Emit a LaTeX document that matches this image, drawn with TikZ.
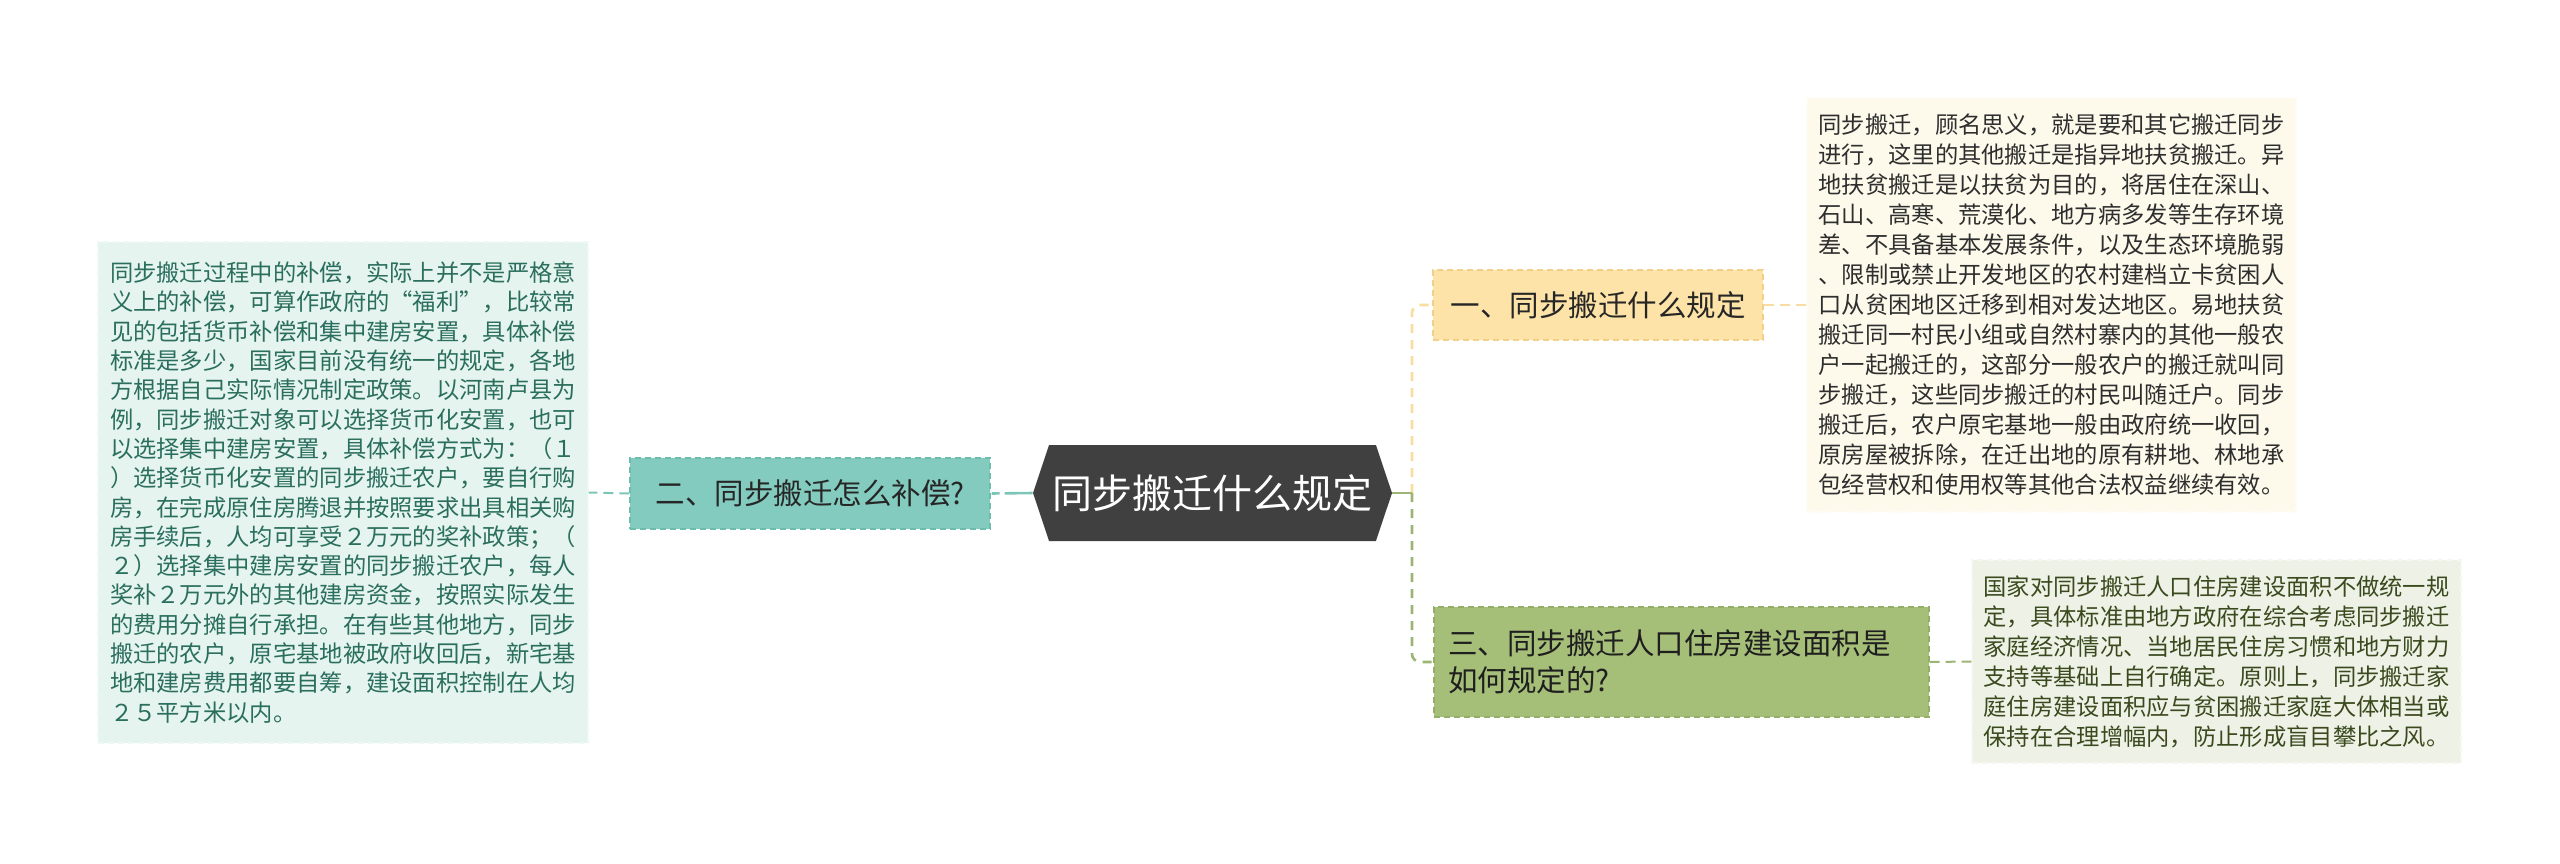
\documentclass[tikz,border=0pt]{standalone}
\usepackage{fontspec}
\setmainfont{Noto Sans CJK SC}
\usetikzlibrary{shapes.symbols}
\definecolor{rootfill}{HTML}{404040}
\definecolor{tealfill}{HTML}{82CBBE}
\definecolor{tealedge}{HTML}{6CBDAE}
\definecolor{tealbox}{HTML}{E6F4F0}
\definecolor{tealboxedge}{HTML}{EEF8F5}
\definecolor{tealtext}{HTML}{2A6E5C}
\definecolor{tealline}{HTML}{7CC6B8}
\definecolor{yelfill}{HTML}{FDE3A7}
\definecolor{yeledge}{HTML}{F3D08A}
\definecolor{yelbox}{HTML}{FDFAEC}
\definecolor{yelboxedge}{HTML}{FEFCF4}
\definecolor{yelline}{HTML}{F8DCA2}
\definecolor{grnfill}{HTML}{A5BE78}
\definecolor{grnedge}{HTML}{93AE66}
\definecolor{grnbox}{HTML}{EEF2E6}
\definecolor{grnboxedge}{HTML}{F5F7F0}
\definecolor{grntext}{HTML}{3A4A1E}
\definecolor{grnline}{HTML}{9DB574}
\begin{document}
\begin{tikzpicture}[x=0.5pt,y=-0.5pt,
  headfont/.style={font=\fontsize{14.75pt}{18.5pt}\selectfont},
  bodyfont/.style={font=\fontsize{11.65pt}{15pt}\selectfont},
  branch/.style={rectangle, draw, dashed, dash pattern=on 3pt off 2pt, line width=0.6pt, inner sep=0pt, headfont},
  textbox/.style={rectangle, draw, dashed, dash pattern=on 3pt off 2pt, line width=0.6pt, inner sep=0pt, align=left, bodyfont},
  con/.style={line width=1.3pt, dash pattern=on 4.5pt off 3.5pt},
]
\useasboundingbox (0,0) rectangle (2560,863);

% root
\node[signal, signal to=west and east, signal pointer angle=143,
  fill=rootfill, text=white, inner sep=0pt,
  minimum width=179.5pt, minimum height=48pt,
  font=\fontsize{20pt}{24pt}\selectfont] (root) at (1212.5,493) {同步搬迁什么规定};

% branches
\node[branch, fill=tealfill, draw=tealedge, text=black!85, minimum width=180pt, minimum height=35.5pt] (n2) at (810,493.5) {二、同步搬迁怎么补偿?};
\node[branch, fill=yelfill, draw=yeledge, text=black!85, minimum width=165pt, minimum height=35pt] (n1) at (1598,305) {一、同步搬迁什么规定};
\node[branch, fill=grnfill, draw=grnedge, text=black!88, minimum width=247.5pt, minimum height=55pt,
  text width=233.5pt, align=left] (n3) at (1681.5,662) {三、同步搬迁人口住房建设面积是\\如何规定的?};

% text boxes
\node[textbox, fill=tealbox, draw=tealboxedge, text=tealtext, minimum width=245pt, minimum height=250.5pt,
  font=\fontsize{11.65pt}{14.65pt}\selectfont] (L) at (343,492.5) {%
同步搬迁过程中的补偿，实际上并不是严格意\\
义上的补偿，可算作政府的“福利”，比较常\\
见的包括货币补偿和集中建房安置，具体补偿\\
标准是多少，国家目前没有统一的规定，各地\\
方根据自己实际情况制定政策。以河南卢县为\\
例，同步搬迁对象可以选择货币化安置，也可\\
以选择集中建房安置，具体补偿方式为：（１\\
）选择货币化安置的同步搬迁农户，要自行购\\
房，在完成原住房腾退并按照要求出具相关购\\
房手续后，人均可享受２万元的奖补政策；（\\
２）选择集中建房安置的同步搬迁农户，每人\\
奖补２万元外的其他建房资金，按照实际发生\\
的费用分摊自行承担。在有些其他地方，同步\\
搬迁的农户，原宅基地被政府收回后，新宅基\\
地和建房费用都要自筹，建设面积控制在人均\\
２５平方米以内。};

\node[textbox, fill=yelbox, draw=yelboxedge, text=black!82, minimum width=244.5pt, minimum height=207pt] (RT) at (2051.5,305) {%
同步搬迁，顾名思义，就是要和其它搬迁同步\\
进行，这里的其他搬迁是指异地扶贫搬迁。异\\
地扶贫搬迁是以扶贫为目的，将居住在深山、\\
石山、高寒、荒漠化、地方病多发等生存环境\\
差、不具备基本发展条件，以及生态环境脆弱\\
、限制或禁止开发地区的农村建档立卡贫困人\\
口从贫困地区迁移到相对发达地区。易地扶贫\\
搬迁同一村民小组或自然村寨内的其他一般农\\
户一起搬迁的，这部分一般农户的搬迁就叫同\\
步搬迁，这些同步搬迁的村民叫随迁户。同步\\
搬迁后，农户原宅基地一般由政府统一收回，\\
原房屋被拆除，在迁出地的原有耕地、林地承\\
包经营权和使用权等其他合法权益继续有效。};

\node[textbox, fill=grnbox, draw=grnboxedge, text=grntext, minimum width=244.5pt, minimum height=101.5pt] (RB) at (2216.5,661.5) {%
国家对同步搬迁人口住房建设面积不做统一规\\
定，具体标准由地方政府在综合考虑同步搬迁\\
家庭经济情况、当地居民住房习惯和地方财力\\
支持等基础上自行确定。原则上，同步搬迁家\\
庭住房建设面积应与贫困搬迁家庭大体相当或\\
保持在合理增幅内，防止形成盲目攀比之风。};

% connectors
\coordinate (j) at (1412,493);
\draw[con, draw=yelline, rounded corners=4pt] (j) |- (n1.west);
\draw[con, draw=grnline, rounded corners=4pt] (j) |- (n3.west);
\draw[draw=grnline, line width=1.3pt] (root.east) -- (j);
\draw[con, draw=tealline, dash pattern=on 14pt off 2.5pt on 4pt off 2.5pt] (root.west) -- (n2.east);
\draw[con, draw=tealline, line width=1pt, dash pattern=on 5pt off 3pt] (n2.west) -- (L.east);
\draw[con, draw=yelline, line width=1pt, dash pattern=on 5pt off 3pt] (n1.east) -- (RT.west);
\draw[con, draw=grnline, line width=1pt, dash pattern=on 5pt off 3pt] (n3.east) -- (RB.west);
\end{tikzpicture}
\end{document}
